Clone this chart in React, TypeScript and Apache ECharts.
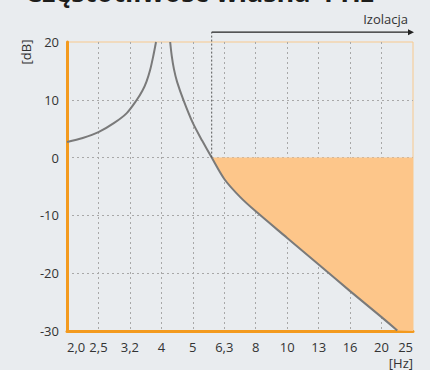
import React, { useEffect, useRef } from "react";
import * as echarts from "echarts";

// Frequency tick labels (Hz), 1/3-octave steps, equally spaced -> index 0..11
const freqLabels = ["2,0", "2,5", "3,2", "4", "5", "6,3", "8", "10", "13", "16", "20", "25"];

// Transmissibility curve, left branch (below resonance): [index, dB]
const leftX = [0, 0.5, 1.0, 1.5, 1.9, 2.22, 2.4, 2.53, 2.64, 2.74, 2.83];
const leftDb = [2.7, 3.4, 4.4, 6.0, 7.7, 10, 11.6, 13.2, 15.1, 17.5, 20];

// Right branch (above resonance)
const rightX = [3.28, 3.33, 3.4, 3.5, 3.7, 4.0, 4.3, 4.6, 5.0, 5.5, 6.0, 7.0, 8.0, 9.0, 10.0, 10.5];
const rightDb = [20, 17.6, 15.3, 13.1, 10, 6.0, 2.9, 0, -3.7, -6.8, -9.3, -13.9, -18.5, -23.1, -27.6, -29.9];

// Isolation range start (0 dB crossing index) and arrow level (dB)
const isolationStart = 4.6;
const arrowLevel = 21.7;
const yMin = -30;
const yMax = 20;
const xMax = 11;

const FONT = "'Open Sans', 'Noto Sans', sans-serif";

export default function App() {
  const ref = useRef<HTMLDivElement>(null);

  useEffect(() => {
    if (!ref.current) return;
    const chart = echarts.init(ref.current, undefined, { renderer: "svg" });

    const leftData = leftX.map((x, i) => [x, leftDb[i]]);
    const rightData = rightX.map((x, i) => [x, rightDb[i]]);

    const split = {
      show: true,
      showMinLine: false,
      showMaxLine: false,
      lineStyle: { color: "#A8A8A8", type: [2, 3], width: 1 },
    };

    const option: any = {
      animation: false,
      backgroundColor: "#E9ECEF",
      grid: {
        left: 67,
        right: 17,
        top: 42,
        bottom: 39,
        show: true,
        borderColor: "#F8C98E",
        borderWidth: 1,
        backgroundColor: "transparent",
      },
      xAxis: {
        type: "value",
        min: 0,
        max: xMax,
        interval: 1,
        axisLine: { show: true, onZero: false, lineStyle: { color: "#F39A1E", width: 3 } },
        axisTick: { show: false },
        axisLabel: {
          color: "#333",
          fontSize: 13,
          fontFamily: FONT,
          margin: 9,
          alignMinLabel: "left",
          alignMaxLabel: "right",
          formatter: (v: number) => freqLabels[Math.round(v)] ?? "",
        },
        splitLine: split,
      },
      yAxis: {
        type: "value",
        min: yMin,
        max: yMax,
        interval: 10,
        axisLine: { show: true, onZero: false, lineStyle: { color: "#F39A1E", width: 3 } },
        axisTick: { show: false },
        axisLabel: { color: "#333", fontSize: 13, fontFamily: FONT, margin: 8 },
        splitLine: split,
      },
      graphic: [
        {
          type: "text",
          x: 25,
          y: -22,
          style: {
            text: "Częstotliwość własna 4 Hz",
            font: `bold 27px ${FONT}`,
            fill: "#1d1d1b",
            verticalAlign: "top",
          },
        },
        {
          type: "text",
          right: 22,
          top: 12,
          style: { text: "Izolacja", font: `13px ${FONT}`, fill: "#333" },
        },
        {
          type: "text",
          x: 26,
          y: 52,
          rotation: Math.PI / 2,
          style: {
            text: "[dB]",
            font: `13px ${FONT}`,
            fill: "#333",
            align: "center",
            verticalAlign: "middle",
          },
        },
        {
          type: "text",
          right: 17,
          top: 356,
          style: { text: "[Hz]", font: `13px ${FONT}`, fill: "#333" },
        },
      ],
      series: [
        {
          type: "custom",
          z: 1,
          silent: true,
          data: [[0, 0]],
          renderItem: (params: any, api: any) => {
            const pts: number[][] = [];
            pts.push(api.coord([isolationStart, 0]));
            pts.push(api.coord([xMax, 0]));
            pts.push(api.coord([xMax, yMin]));
            for (let i = rightX.length - 1; i >= 0; i--) {
              if (rightX[i] >= isolationStart) pts.push(api.coord([rightX[i], rightDb[i]]));
            }
            return {
              type: "polygon",
              shape: { points: pts },
              style: { fill: "#FDC68A", stroke: "none" },
            };
          },
        },
        {
          type: "line",
          z: 3,
          data: leftData,
          smooth: 0.3,
          showSymbol: false,
          lineStyle: { color: "#7A7A7A", width: 2 },
        },
        {
          type: "line",
          z: 3,
          data: rightData,
          smooth: 0.3,
          showSymbol: false,
          lineStyle: { color: "#7A7A7A", width: 2 },
        },
        {
          type: "custom",
          z: 4,
          silent: true,
          clip: false,
          data: [[0, 0]],
          renderItem: (params: any, api: any) => {
            const p0 = api.coord([isolationStart, 0]);
            const p1 = api.coord([isolationStart, arrowLevel]);
            const p2 = api.coord([xMax, arrowLevel]);
            return {
              type: "group",
              children: [
                {
                  type: "line",
                  shape: { x1: p0[0], y1: p0[1], x2: p1[0], y2: p1[1] },
                  style: { stroke: "#555", lineWidth: 1, lineDash: [2, 2] },
                },
                {
                  type: "line",
                  shape: { x1: p1[0], y1: p1[1], x2: p2[0] - 3, y2: p2[1] },
                  style: { stroke: "#222", lineWidth: 1.3 },
                },
                {
                  type: "polygon",
                  shape: {
                    points: [
                      [p2[0] + 1, p2[1]],
                      [p2[0] - 5, p2[1] - 3],
                      [p2[0] - 5, p2[1] + 3],
                    ],
                  },
                  style: { fill: "#222" },
                },
              ],
            };
          },
        },
      ],
    };

    chart.setOption(option);
    return () => chart.dispose();
  }, []);

  return (
    <div
      ref={ref}
      style={{ position: "fixed", left: 0, top: 0, width: 430, height: 370 }}
    />
  );
}
